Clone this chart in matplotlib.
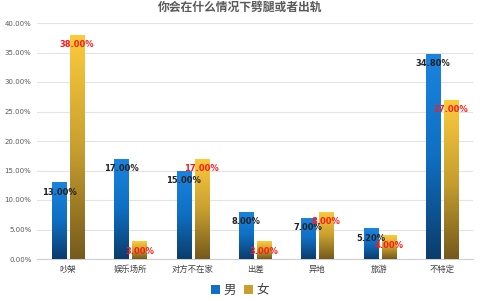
import matplotlib
matplotlib.use("Agg")
import matplotlib.pyplot as plt
import numpy as np
from matplotlib.colors import LinearSegmentedColormap
from matplotlib.patches import Patch

plt.rcParams['font.family'] = ['Noto Sans CJK SC', 'DejaVu Sans']

title = "你会在什么情况下劈腿或者出轨"
categories = ["吵架", "娱乐场所", "对方不在家", "出差", "异地", "旅游", "不特定"]
male = [13.0, 17.0, 15.0, 8.0, 7.0, 5.2, 34.8]
female = [38.0, 3.0, 17.0, 3.0, 8.0, 4.0, 27.0]
yticks = [0, 5, 10, 15, 20, 25, 30, 35, 40]

fig = plt.figure(figsize=(4.8, 3.0), dpi=100)
ax = fig.add_axes([37/480, 1-259/300, 436/480, 236/300])

blue_cmap = LinearSegmentedColormap.from_list("b", ["#0b3c6c", "#0f6fc2", "#1a84e0"])
gold_cmap = LinearSegmentedColormap.from_list("g", ["#755a1c", "#c9a030", "#fccb3c"])

x = np.arange(len(categories))
w = 0.225
off = 0.145
grad = np.linspace(0, 1, 256).reshape(-1, 1)

def gbars(xs, vals, cmap):
    bars = ax.bar(xs, vals, w, color="none", edgecolor="none", zorder=3)
    for b in bars:
        x0, y0 = b.get_x(), b.get_y()
        im = ax.imshow(grad, cmap=cmap, origin="lower", aspect="auto",
                       extent=[x0, x0 + b.get_width(), y0, y0 + b.get_height()],
                       zorder=3)
        im.set_clip_path(b)
    return bars

bm = gbars(x - off, male, blue_cmap)
bf = gbars(x + off, female, gold_cmap)

for b, v in zip(bm, male):
    ax.annotate(f"{v:.2f}%", (b.get_x() + b.get_width()/2, v), xytext=(0, -7),
                textcoords="offset points", ha="center", va="center",
                fontsize=6, fontweight="bold", color="#222222", zorder=5,
                family="DejaVu Sans")
for b, v in zip(bf, female):
    ax.annotate(f"{v:.2f}%", (b.get_x() + b.get_width()/2, v), xytext=(0, -7),
                textcoords="offset points", ha="center", va="center",
                fontsize=6, fontweight="bold", color="#ff1a1a", zorder=5,
                family="DejaVu Sans")

ax.set_xlim(-0.5, len(categories) - 0.5)
ax.set_ylim(0, 40)
ax.set_yticks(yticks)
ax.set_yticklabels([f"{t:.2f}%" for t in yticks], fontsize=5, color="#595959",
                   family="DejaVu Sans")
ax.set_xticks(x)
ax.set_xticklabels(categories, fontsize=6, color="#404040")
ax.tick_params(axis="both", length=0, pad=4)
ax.grid(axis="y", color="#e3e3e3", linewidth=0.8, zorder=0)
ax.set_axisbelow(True)
for s in ["top", "right", "left"]:
    ax.spines[s].set_visible(False)
ax.spines["bottom"].set_color("#d0d0d0")
ax.spines["bottom"].set_linewidth(0.8)

fig.text(0.5, 1 - 7/300, title, ha="center", va="center", fontsize=8.5,
         fontweight="bold", color="#595959")

handles = [Patch(facecolor="#0f6fc2", label="男"), Patch(facecolor="#c9a030", label="女")]
fig.legend(handles=handles, loc="center", bbox_to_anchor=(0.5, 1 - 290/300), ncol=2,
           frameon=False, fontsize=9, handlelength=0.7, handleheight=0.7,
           handletextpad=0.3, columnspacing=0.6, labelcolor="#404040")

fig.savefig("out.png", dpi=100)
